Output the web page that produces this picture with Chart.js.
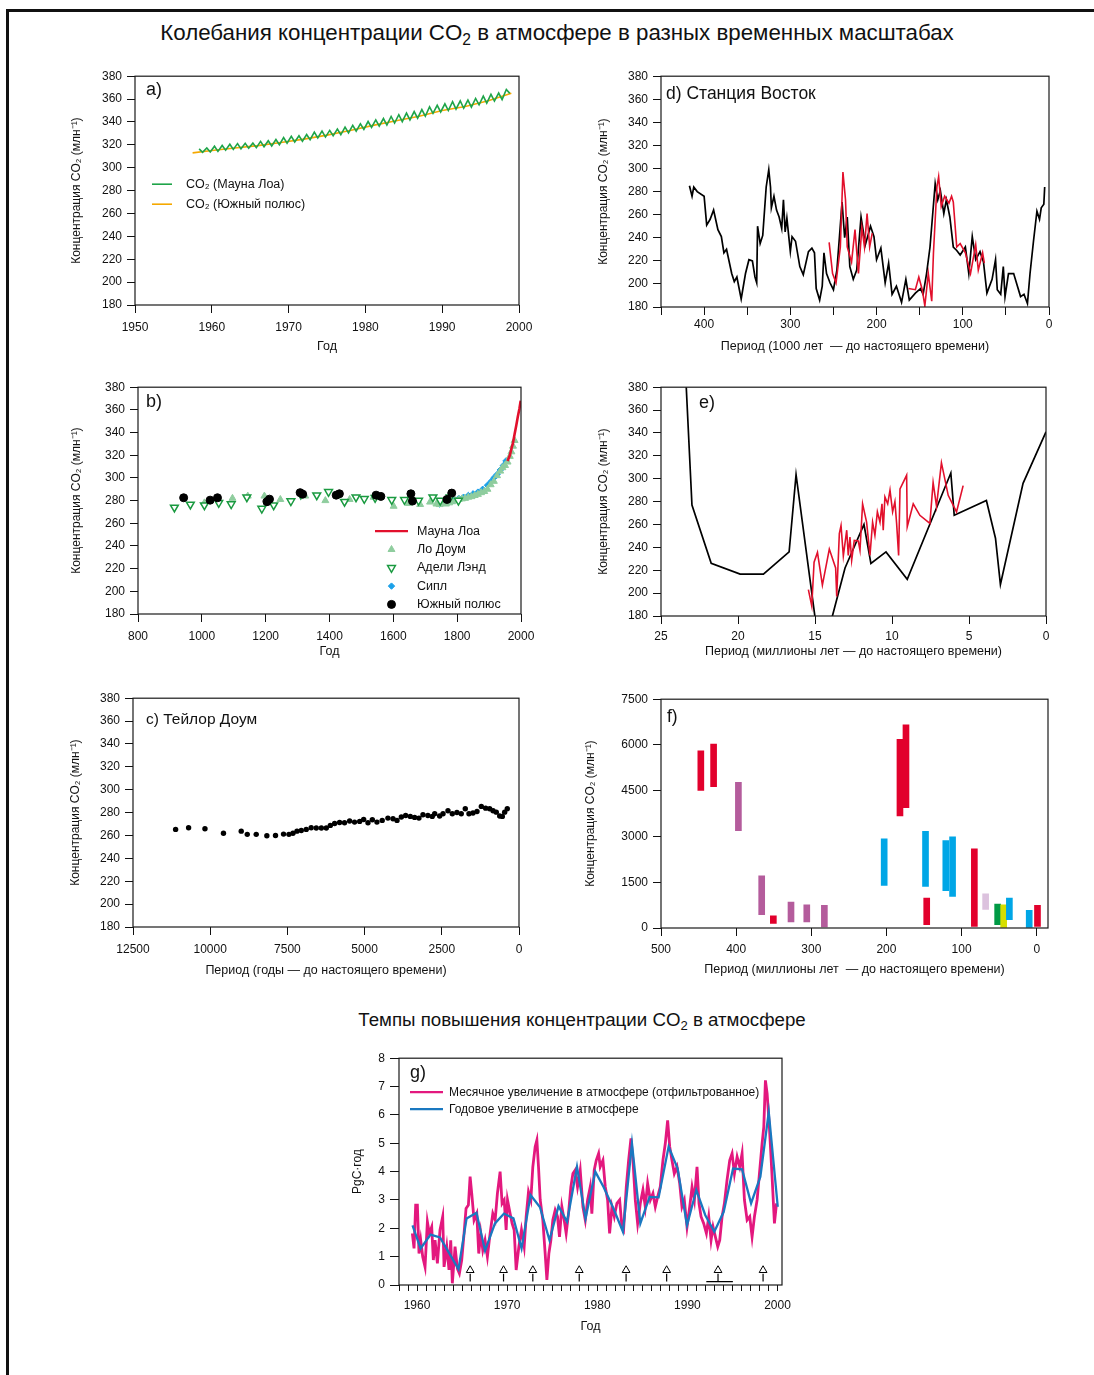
<!DOCTYPE html>
<html lang="ru">
<head>
<meta charset="utf-8">
<title>Колебания концентрации CO2 в атмосфере</title>
<script src="https://cdn.jsdelivr.net/npm/chart.js@4.4.1/dist/chart.umd.min.js"></script>
<style>
  html, body { margin: 0; padding: 0; background: #fff; }
  #page { position: relative; width: 1094px; height: 1375px; overflow: hidden;
          font-family: "Liberation Sans", Arial, Helvetica, sans-serif; color: #111; }
  #frame { position: absolute; left: 6px; top: 9px; width: 1200px; height: 1500px;
           border-top: 3px solid #111; border-left: 3px solid #111; }
  .head { position: absolute; white-space: nowrap; transform: translateX(-50%); }
  .head sub { font-size: 70%; line-height: 0; vertical-align: -0.3em; }
  canvas { position: absolute; }
</style>
</head>
<body>
<div id="page">
  <div id="frame"></div>
  <div class="head" style="left:557px; top:20px; font-size:22.3px;">Колебания концентрации CO<sub>2</sub> в атмосфере в разных временных масштабах</div>
  <div class="head" style="left:582px; top:1009px; font-size:18.7px;">Темпы повышения концентрации CO<sub>2</sub> в атмосфере</div>
</div>
<script>
// ---- a) Мауна Лоа и Южный полюс (max/min сезонного цикла по годам)
const mlYear = [1958, 1959, 1960, 1961, 1962, 1963, 1964, 1965, 1966, 1967, 1968, 1969, 1970, 1971,
  1972, 1973, 1974, 1975, 1976, 1977, 1978, 1979, 1980, 1981, 1982, 1983, 1984, 1985, 1986, 1987,
  1988, 1989, 1990, 1991, 1992, 1993, 1994, 1995, 1996, 1997, 1998];
const mlPeak = [316.5, 317.3, 318.8, 319.5, 320.5, 321.1, 321.3, 321.5, 323.0, 323.6, 324.7, 326.4,
  327.5, 327.9, 329.0, 331.2, 332.0, 332.6, 333.8, 335.5, 337.0, 338.3, 340.4, 341.9, 343.0, 344.8,
  346.3, 347.8, 349.1, 350.8, 353.2, 354.6, 355.9, 357.8, 358.5, 359.1, 360.6, 362.6, 364.1, 365.3, 368.4];
const mlTrough = [313.5, 313.8, 314.3, 315.3, 316.0, 316.5, 317.0, 317.5, 318.3, 319.0, 320.1, 321.5,
  322.5, 323.2, 324.5, 326.0, 326.8, 327.9, 328.8, 330.5, 331.9, 333.5, 335.3, 336.3, 337.3, 339.0,
  340.3, 341.8, 343.3, 345.0, 347.5, 348.8, 350.0, 351.2, 352.0, 353.0, 355.0, 356.5, 358.3, 359.5, 365.0];
const spYear = [1957.5, 1960, 1963, 1966, 1969, 1972, 1975, 1978, 1981, 1984, 1987, 1990, 1993, 1996, 1999];
const spCO2 = [313.0, 315.0, 317.2, 319.3, 322.0, 325.0, 328.5, 332.5, 337.0, 341.0, 345.0, 350.0, 353.5, 358.5, 365.0];

// ---- b) последнее тысячелетие
const bMLYear = [1958, 1965, 1970, 1975, 1980, 1985, 1990, 1995, 1999];
const bMLCO2 = [315, 320, 325.7, 331, 338.7, 346, 354, 361, 368];
const lawDomeYear = [1008, 1096, 1144, 1196, 1246, 1324, 1387, 1463, 1538, 1601, 1648, 1684, 1715,
  1735, 1745, 1755, 1765, 1775, 1785, 1795, 1805, 1815, 1825, 1835, 1845, 1855, 1865, 1875, 1885,
  1895, 1905, 1915, 1925, 1935, 1942, 1950, 1958, 1965, 1970, 1975, 1980];
const lawDomeCO2 = [278, 282, 284, 284, 281, 284, 280, 281, 283, 275, 277.5, 276.6, 278.7,
  277, 276.5, 277.5, 277, 278, 279, 280, 281, 281.5, 282, 283, 283.5, 284.5, 285.5, 287, 288,
  290, 294, 297, 302, 306, 309, 311, 314, 319, 323, 328, 333];
const adelieYear = [914, 964, 1008, 1053, 1092, 1141, 1188, 1225, 1279, 1310, 1360, 1397, 1447, 1483,
  1509, 1543, 1595, 1635, 1679, 1724, 1747, 1778, 1804];
const adelieCO2 = [274, 276.6, 276, 278, 277, 283, 273, 276, 279.6, 285.4, 284.8, 287.8, 279, 283,
  281.6, 282.5, 280.7, 280.7, 280, 283, 280, 283, 280];
const sipleYear = [1744, 1760, 1775, 1790, 1805, 1820, 1835, 1850, 1865, 1880, 1895, 1905, 1915, 1925, 1935, 1945, 1953];
const sipleCO2 = [277, 278, 279.5, 280, 282, 283, 284.5, 286, 287.5, 290, 293.5, 296.5, 300, 303, 307, 311, 315];
const southPoleYear = [943, 1026, 1049, 1204, 1212, 1308, 1316, 1421, 1431, 1546, 1561, 1655, 1660, 1768, 1783];
const southPoleCO2 = [282.5, 280.4, 282.5, 279, 281.3, 287, 285.7, 284.8, 286, 284.8, 283.7, 286, 279.6, 281, 286.6];

// ---- c) Тейлор Доум (годы до настоящего времени)
const taylorAge = [11120, 10700, 10170, 9570, 8995, 8800, 8510, 8165, 7885, 7625, 7450, 7320, 7190, 7050,
  6890, 6730, 6565, 6400, 6240, 6110, 5970, 5810, 5650, 5485, 5325, 5160, 5030, 4890, 4750, 4600, 4430,
  4245, 4080, 3950, 3810, 3670, 3520, 3380, 3240, 3110, 2950, 2810, 2730, 2570, 2460, 2300, 2160, 2010,
  1870, 1740, 1620, 1490, 1360, 1220, 1080, 950, 840, 735, 625, 540, 465, 380];
const taylorCO2 = [265.3, 266.7, 265.9, 262, 263.8, 261, 261, 259.8, 260, 261.2, 261, 262, 263.8, 264.4,
  265.3, 266.7, 266.5, 266.5, 266.5, 268.8, 270.5, 271.4, 271.1, 272.6, 271.7, 272.3, 274, 271.1, 273.7,
  271.7, 273.2, 275.2, 274.6, 273.2, 276.1, 277.5, 276.7, 275.8, 275.2, 278.1, 277.5, 276.7, 279, 277, 279,
  281.6, 279, 280.1, 279, 283.4, 279, 279.6, 281, 285.4, 283.9, 283.4, 281.6, 280.4, 277, 276.7, 280.4, 283.4];

// ---- d) Восток (тыс. лет до настоящего времени)
const vostokAge = [417, 414, 412, 408, 400, 397, 393, 389, 384, 380, 377, 374, 368, 365, 362, 357, 352, 348,
  344, 341, 339, 338, 335, 332, 328, 325, 323, 322, 319, 316, 313, 310, 308, 306, 304, 300, 298, 294, 289,
  285, 279, 275, 272, 270, 266, 263, 261, 258, 254, 250, 246, 243, 240, 237, 234, 231, 227, 223, 218, 213,
  207, 203, 200, 195, 190, 186, 182, 177, 171, 166, 162, 155, 149, 146, 142, 138, 132, 129, 126, 122, 119,
  115, 111, 107, 103, 97, 93, 89, 85, 80, 76, 72, 66, 62, 60, 56, 53, 51, 47, 41, 33, 29, 25, 22, 18, 14,
  11, 9, 6, 5];
const vostokCO2 = [285, 276, 284, 280, 276, 251, 256, 264, 247, 241, 227, 230, 209, 202, 206, 187, 209, 221,
  220, 206, 201, 250, 235, 242, 284, 299, 284, 266, 276, 264, 258, 248, 273, 245, 257, 228, 241, 237, 215,
  208, 228, 231, 227, 196, 186, 198, 227, 209, 201, 195, 212, 241, 271, 240, 258, 215, 204, 212, 258, 234,
  250, 241, 221, 231, 201, 218, 191, 198, 184, 204, 186, 192, 196, 191, 209, 232, 287, 273, 281, 261, 273,
  258, 232, 229, 225, 232, 209, 241, 221, 228, 219, 192, 204, 221, 195, 191, 215, 189, 209, 209, 189, 191,
  183, 209, 237, 263, 256, 266, 269, 284];
const vostokRedAge = [255, 251, 247, 242, 239, 236, 234, 229, 225, 221, 217, 214, 211, 208, 205, 184,
  163, 155, 151, 147, 144, 140, 136, 134, 130, 128, 125, 121, 116, 113, 111, 107, 103, 97, 91, 85, 82, 77, 75];
const vostokRedCO2 = [236, 209, 201, 232, 297, 273, 232, 219, 247, 209, 249, 232, 261, 232, 244, null,
  196, 195, 206, 195, 181, 209, 185, 227, 284, 293, 267, 276, 270, 276, 271, 232, 235, 227, 209, 234, 212, 227, 218];

// ---- e) миллионы лет
const eBlackAge = [23.45, 22.99, 21.74, 19.86, 18.35, 16.68, 16.23, 15.0, 14.63, 13.87, 13.05, 11.82, 11.37,
  10.39, 9.01, 6.18, 5.96, 3.87, 3.28, 2.96, 1.49, 0];
const eBlackCO2 = [405, 277, 226, 216.6, 216.6, 236, 303.6, 179, 142, 180, 222, 260, 226, 236, 212, 305, 268,
  281, 248, 207.6, 296, 341];
const eRedAge = [15.43, 15.21, 15.06, 14.84, 14.52, 14.07, 13.66, 13.59, 13.42, 13.31, 13.16, 12.94, 12.84,
  12.73, 12.62, 12.45, 12.19, 12.08, 11.91, 11.65, 11.43, 11.26, 11.11, 10.95, 10.78, 10.65, 10.57, 10.46,
  10.28, 10.13, 9.96, 9.81, 9.70, 9.57, 9.48, 9.05, 9.01, 8.62, 8.19, 7.54, 7.33, 7.11, 6.79, 6.35, 5.81, 5.38];
const eRedCO2 = [203, 188.7, 227, 235.6, 207, 238.5, 222, 197, 252, 259, 232.5, 255, 233, 249, 228.6, 246,
  245.6, 237.5, 278, 262, 233, 262, 250.6, 271, 262, 278, 255, 284, 278, 290, 271, 280, 261, 233, 291, 303,
  258, 278, 268, 261, 296.7, 276, 314, 285.5, 271, 294];

// ---- f) диапазоны оценок (млн лет)
const fAge = [447, 430, 397, 366, 350.5, 327, 306, 282.6, 203, 182, 174, 148, 146.4, 121, 112, 83, 68, 52, 44, 36.4, 10, -1];
const fLow = [4513, 4633, 3194, 436, 153, 196, 196, 33, 1395, 3674, 3946, 1363, 109, 1221, 1036, 55, 610, 109, 0, 273, 22, 55];
const fHigh = [5810, 6028, 4775, 1711, 403, 850, 763, 741, 2921, 6181, 6661, 3172, 981, 2867, 2987, 2594, 1123, 785, 763, 981, 578, 741];
const fProxy = ['r', 'r', 'p', 'p', 'r', 'p', 'p', 'p', 'b', 'r', 'r', 'b', 'r', 'b', 'b', 'r', 'l', 'g', 'y', 'b', 'b', 'r'];
const proxyColor = { r: '#e2002c', p: '#b45c9c', b: '#00a6e6', l: '#dcc2de', g: '#009a45', y: '#d6de00' };

// ---- g) темпы прироста, PgC/год
const gYear = [1959.5, 1960.4, 1961.5, 1962.55, 1963.5, 1964.6, 1965.5, 1966.6, 1967.55, 1968.65, 1969.65,
  1970.7, 1971.6, 1972.6, 1973.65, 1974.7, 1975.7, 1976.65, 1977.75, 1978.7, 1979.78, 1980.7, 1981.8,
  1982.85, 1983.85, 1984.78, 1985.81, 1986.81, 1987.92, 1988.92, 1989.96, 1990.99, 1991.99, 1992.99,
  1994.03, 1995.07, 1996.07, 1997.07, 1998.1, 1999.03, 2000.03];
const gAnnual = [2.1, 1.29, 1.78, 1.68, 1.16, 0.56, 2.35, 2.55, 1.21, 2.17, 2.52, 2.35, 1.29, 3.17, 2.74,
  1.58, 2.78, 2.23, 4.17, 2.35, 4.0, 3.46, 2.7, 1.88, 4.99, 2.17, 3.11, 3.09, 4.88, 4.11, 2.11, 3.35, 2.46,
  1.88, 2.58, 4.11, 4.08, 2.88, 3.82, 6.1, 2.76];
const gMonthYear = [1959.48, 1959.67, 1959.85, 1960.04, 1960.22, 1960.41, 1960.63, 1960.89, 1961.15, 1961.37,
  1961.63, 1961.81, 1962.0, 1962.26, 1962.55, 1962.85, 1963.0, 1963.3, 1963.55, 1963.74, 1963.92, 1964.22,
  1964.48, 1964.7, 1964.96, 1965.22, 1965.44, 1965.7, 1965.89, 1966.07, 1966.33, 1966.63, 1966.85, 1967.07,
  1967.3, 1967.55, 1967.81, 1968.11, 1968.41, 1968.67, 1968.92, 1969.22, 1969.44, 1969.67, 1969.89, 1970.04,
  1970.33, 1970.55, 1970.78, 1971.0, 1971.3, 1971.59, 1971.89, 1972.11, 1972.37, 1972.63, 1972.85, 1973.11,
  1973.3, 1973.48, 1973.67, 1973.96, 1974.22, 1974.41, 1974.63, 1974.85, 1975.07, 1975.33, 1975.59, 1975.81,
  1976.07, 1976.33, 1976.55, 1976.81, 1977.07, 1977.3, 1977.55, 1977.81, 1978.11, 1978.41, 1978.67, 1978.93,
  1979.22, 1979.4, 1979.66, 1979.89, 1980.15, 1980.33, 1980.63, 1980.89, 1981.15, 1981.37, 1981.63, 1981.89,
  1982.18, 1982.48, 1982.74, 1982.92, 1983.22, 1983.48, 1983.74, 1983.96, 1984.22, 1984.48, 1984.78, 1985.07,
  1985.33, 1985.59, 1985.89, 1986.18, 1986.44, 1986.7, 1986.99, 1987.29, 1987.55, 1987.81, 1988.04, 1988.29,
  1988.55, 1988.85, 1989.15, 1989.4, 1989.66, 1989.96, 1990.26, 1990.52, 1990.78, 1991.07, 1991.29, 1991.52,
  1991.81, 1992.11, 1992.37, 1992.63, 1992.85, 1993.11, 1993.37, 1993.59, 1993.85, 1994.11, 1994.4, 1994.7,
  1994.96, 1995.22, 1995.52, 1995.81, 1996.07, 1996.33, 1996.63, 1996.92, 1997.18, 1997.44, 1997.74, 1998.03,
  1998.29, 1998.48, 1998.66, 1998.85, 1999.1, 1999.4, 1999.66, 1999.89];
const gMonthly = [1.82, 1.29, 2.82, 2.82, 1.11, 1.58, 1.0, 0.64, 2.23, 1.82,
  2.05, 0.88, 1.58, 0.76, 1.94, 2.41, 0.64, 1.35, 0.53, 1.58, 0.06, 1.35,
  0.58, 0.41, 0.88, 1.82, 2.7, 2.82, 3.82, 3.23, 2.29, 2.52, 1.11, 1.82,
  1.23, 1.58, 1.0, 1.82, 2.52, 2.29, 3.23, 4.0, 2.88, 3.0, 1.94, 3.0,
  2.52, 2.17, 1.94, 0.53, 1.35, 1.94, 1.35, 2.41, 3.29, 3.0, 4.17, 4.88,
  5.11, 4.17, 3.0, 2.29, 1.11, 0.18, 1.11, 1.58, 2.29, 2.64, 2.41, 1.7,
  2.76, 2.29, 1.82, 2.52, 3.46, 3.93, 4.05, 3.46, 4.05, 2.76, 2.29, 3.0,
  3.46, 2.52, 4.05, 4.4, 4.64, 4.17, 4.4, 3.46, 3.0, 1.82, 2.76, 2.41,
  2.88, 3.0, 2.05, 1.94, 3.46, 4.4, 5.17, 4.4, 3.0, 2.17, 2.88, 3.35,
  2.76, 3.58, 3.0, 3.23, 2.76, 3.11, 3.46, 4.4, 4.99, 5.81, 4.88, 4.4,
  3.93, 4.17, 3.58, 2.76, 3.0, 2.05, 2.76, 3.46, 3.0, 4.17, 2.88, 2.41,
  2.17, 1.82, 2.41, 1.58, 2.05, 1.7, 1.35, 1.58, 2.41, 2.88, 3.7, 4.4,
  4.64, 3.93, 4.52, 4.17, 4.64, 3.0, 2.29, 2.41, 1.7, 2.41, 3.0, 4.05,
  4.99, 5.58, 7.22, 6.75, 5.58, 3.82, 2.17, 2.88];
const gArrowYear = [1965.9, 1969.6, 1972.85, 1978.0, 1983.2, 1987.7, 1993.4, 1998.4];
const gSpan = [1992.1, 1995.05];

const FONT = '"Liberation Sans", Arial, Helvetica, sans-serif';
Chart.defaults.font.family = FONT;
Chart.defaults.font.size = 12;
Chart.defaults.color = '#111';
Chart.defaults.animation = false;
Chart.defaults.plugins.legend.display = false;
Chart.defaults.plugins.tooltip.enabled = false;

const CO2_TITLE = 'Концентрация CO₂ (млн⁻¹)';

function pts(xs, ys) {
  return xs.map((x, i) => ({ x: x, y: ys[i] }));
}

// рамка, подпись панели и легенда внутри области графика
const decor = {
  id: 'decor',
  afterDraw(chart, args, o) {
    const { ctx, chartArea: a } = chart;
    ctx.save();
    ctx.strokeStyle = '#1a1a1a';
    ctx.lineWidth = 1.2;
    ctx.strokeRect(a.left, a.top, a.right - a.left, a.bottom - a.top);
    ctx.textBaseline = 'middle';
    ctx.fillStyle = '#111';
    if (o.tag) {
      ctx.font = o.tag.size + 'px ' + FONT;
      ctx.fillText(o.tag.text, a.left + o.tag.dx, a.top + o.tag.dy);
    }
    if (o.legend) {
      const L = o.legend;
      ctx.font = L.size + 'px ' + FONT;
      L.items.forEach((it, i) => {
        const ds = chart.data.datasets[it.ds];
        const x = a.left + L.dx, y = a.top + L.dy + i * L.row;
        if (ds.pointRadius) {
          ctx.fillStyle = ds.backgroundColor;
          ctx.strokeStyle = ds.borderColor;
          ctx.lineWidth = ds.borderWidth;
          Chart.helpers.drawPoint(ctx, { pointStyle: ds.pointStyle, radius: ds.pointRadius,
            rotation: ds.rotation || 0, borderWidth: ds.borderWidth }, x + L.sw / 2, y);
        } else {
          ctx.strokeStyle = ds.borderColor;
          ctx.lineWidth = Math.min(ds.borderWidth, 2.2);
          ctx.beginPath(); ctx.moveTo(x, y); ctx.lineTo(x + L.sw, y); ctx.stroke();
        }
        ctx.fillStyle = '#111';
        ctx.fillText(it.text || ds.label, x + L.tx, y);
      });
    }
    ctx.restore();
  }
};

function makeScales(p, yW, xH) {
  return {
    x: {
      type: 'linear', min: p.xMin, max: p.xMax, reverse: !!p.xRev, offset: false,
      ticks: { stepSize: p.xStep, autoSkip: false, includeBounds: false, maxRotation: 0,
        padding: p.xPad === undefined ? 7 : p.xPad,
        callback: v => (p.xLabel ? p.xLabel(v) : String(v)) },
      grid: { drawOnChartArea: false, tickLength: p.xTick || 8, tickColor: '#111', offset: false },
      border: { display: false },
      title: { display: true, text: p.xTitle, font: { size: 12.5 }, padding: 4 },
      afterFit: s => { s.height = xH; }
    },
    y: {
      type: 'linear', min: p.yMin, max: p.yMax,
      ticks: { stepSize: p.yStep, autoSkip: false, includeBounds: false, padding: 5, callback: v => String(v) },
      grid: { drawOnChartArea: false, tickLength: p.yTick || 8, tickColor: '#111' },
      border: { display: false },
      title: { display: true, text: p.yTitle || CO2_TITLE, font: { size: 12 }, padding: 4 },
      afterFit: s => { s.width = yW; }
    }
  };
}

function panel(box, p) {
  const yW = Math.round(box.yDist + 11), xH = Math.round(box.xDist + 11);
  const padT = 12, padR = 22;
  const c = document.createElement('canvas');
  c.width = (box.r - box.l) + yW + padR;
  c.height = (box.b - box.t) + padT + xH;
  c.style.left = (box.l - yW) + 'px';
  c.style.top = (box.t - padT) + 'px';
  c.style.width = c.width + 'px';
  c.style.height = c.height + 'px';
  document.getElementById('page').appendChild(c);
  return new Chart(c, {
    type: p.type || 'scatter',
    data: { datasets: p.datasets },
    options: {
      responsive: false,
      devicePixelRatio: 1,
      layout: { padding: { left: 0, top: padT, right: padR, bottom: 0 } },
      scales: makeScales(p, yW, xH),
      plugins: { decor: { tag: p.tag, legend: p.legend } }
    },
    plugins: [decor]
  });
}

const lineDs = (label, data, color, width) => ({
  label: label, data: data, showLine: true, borderColor: color, backgroundColor: color,
  borderWidth: width, pointRadius: 0, tension: 0, spanGaps: false
});

// a)
panel({ l: 135, t: 76, r: 519, b: 305, yDist: 59, xDist: 42 }, {
  xMin: 1950, xMax: 2000, xStep: 10, yMin: 180, yMax: 380, yStep: 20, xTitle: 'Год',
  datasets: [
    lineDs('CO₂ (Мауна Лоа)', mlYear.flatMap((yr, i) => [{ x: yr + 0.35, y: mlPeak[i] }, { x: yr + 0.8, y: mlTrough[i] }]), '#1ea449', 1.6),
    lineDs('CO₂ (Южный полюс)', pts(spYear, spCO2), '#f5a800', 1.6)
  ],
  tag: { text: 'a)', dx: 11, dy: 14, size: 18 },
  legend: { dx: 17, dy: 108, row: 20, sw: 20, tx: 34, size: 12.5, items: [{ ds: 0 }, { ds: 1 }] }
});

// b)
panel({ l: 138, t: 387, r: 521, b: 614, yDist: 62, xDist: 38 }, {
  xMin: 800, xMax: 2000, xStep: 200, yMin: 180, yMax: 380, yStep: 20, xTitle: 'Год',
  datasets: [
    lineDs('Мауна Лоа', pts(bMLYear, bMLCO2), '#e2102c', 2.6),
    { label: 'Южный полюс', data: pts(southPoleYear, southPoleCO2), pointStyle: 'circle', pointRadius: 4,
      backgroundColor: '#000', borderColor: '#000', borderWidth: 1 },
    { label: 'Адели Лэнд', data: pts(adelieYear, adelieCO2), pointStyle: 'triangle', rotation: 180, pointRadius: 4.5,
      backgroundColor: '#fff', borderColor: '#1a9a40', borderWidth: 1.5 },
    { label: 'Ло Доум', data: pts(lawDomeYear, lawDomeCO2), pointStyle: 'triangle', pointRadius: 4,
      backgroundColor: '#8fcd9e', borderColor: '#8fcd9e', borderWidth: 1 },
    { label: 'Сипл', data: pts(sipleYear, sipleCO2), pointStyle: 'rectRot', pointRadius: 3.2,
      backgroundColor: '#1aa0e8', borderColor: '#1aa0e8', borderWidth: 1 }
  ],
  tag: { text: 'b)', dx: 8, dy: 15, size: 18 },
  legend: { dx: 237, dy: 144, row: 18.3, sw: 33, tx: 42, size: 12.5,
    items: [{ ds: 0 }, { ds: 3 }, { ds: 2 }, { ds: 4 }, { ds: 1 }] }
});

// c)
panel({ l: 133, t: 698, r: 519, b: 927, yDist: 58, xDist: 44 }, {
  xMin: 0, xMax: 12500, xRev: true, xStep: 2500, yMin: 180, yMax: 380, yStep: 20,
  xTitle: 'Период (годы — до настоящего времени)',
  datasets: [
    { label: 'Тейлор Доум', data: pts(taylorAge, taylorCO2), pointStyle: 'circle', pointRadius: 2.7,
      backgroundColor: '#000', borderColor: '#000', borderWidth: 0 }
  ],
  tag: { text: 'c) Тейлор Доум', dx: 13, dy: 22, size: 15.5 }
});

// d)
panel({ l: 661, t: 76, r: 1049, b: 307, yDist: 58, xDist: 40 }, {
  xMin: 0, xMax: 450, xRev: true, xStep: 50, xPad: 2, xLabel: v => (v % 100 === 0 ? String(v) : ''),
  yMin: 180, yMax: 380, yStep: 20,
  xTitle: 'Период (1000 лет  — до настоящего времени)',
  datasets: [
    lineDs('Восток (2)', pts(vostokRedAge, vostokRedCO2), '#e2102c', 1.6),
    lineDs('Восток', pts(vostokAge, vostokCO2), '#000', 1.7)
  ],
  tag: { text: 'd) Станция Восток', dx: 5, dy: 18, size: 17.5 }
});

// e)
panel({ l: 661, t: 387, r: 1046, b: 616, yDist: 58, xDist: 36 }, {
  xMin: 0, xMax: 25, xRev: true, xStep: 5, xPad: 5, yMin: 180, yMax: 380, yStep: 20,
  xTitle: 'Период (миллионы лет — до настоящего времени)',
  datasets: [
    lineDs('Оценка 2', pts(eRedAge, eRedCO2), '#e2102c', 1.6),
    lineDs('Оценка 1', pts(eBlackAge, eBlackCO2), '#000', 1.7)
  ],
  tag: { text: 'e)', dx: 38, dy: 16, size: 18 }
});

// f)
panel({ l: 661, t: 699, r: 1048, b: 928, yDist: 71, xDist: 42 }, {
  type: 'bar',
  xMin: -15, xMax: 500, xRev: true, xStep: 100, xPad: 6, yMin: 0, yMax: 7500, yStep: 1500,
  xTitle: 'Период (миллионы лет  — до настоящего времени)',
  datasets: [
    { label: 'Диапазон', data: fAge.map((x, i) => ({ x: x, y: [fLow[i], fHigh[i]] })),
      backgroundColor: fProxy.map(k => proxyColor[k]), borderWidth: 0, barThickness: 6, borderSkipped: false }
  ],
  tag: { text: 'f)', dx: 6, dy: 18, size: 17.5 }
});

// g)
panel({ l: 399, t: 1058, r: 782, b: 1285, yDist: 42, xDist: 42 }, {
  xMin: 1958, xMax: 2000.5, xStep: 1, xTick: 6, yTick: 9,
  xLabel: v => (Number.isInteger(v) && v % 10 === 0 ? String(v) : ''),
  yMin: 0, yMax: 8, yStep: 1, yTitle: 'PgC·год', xTitle: 'Год',
  datasets: [
    lineDs('Годовое увеличение в атмосфере', pts(gYear, gAnnual), '#1a78c0', 2.3),
    lineDs('Месячное увеличение в атмосфере (отфильтрованное)', pts(gMonthYear, gMonthly), '#e3187e', 2.8),
    { label: 'Эль-Ниньо', data: gArrowYear.map(x => ({ x: x, y: 0.52 })), pointStyle: 'triangle', pointRadius: 4.5,
      backgroundColor: '#fff', borderColor: '#000', borderWidth: 1 },
    lineDs('стрелки', gArrowYear.flatMap(x => [{ x: x, y: 0.12 }, { x: x, y: 0.4 }, { x: x, y: null }]), '#000', 1.2),
    lineDs('Пинатубо', pts(gSpan, [0.12, 0.12]), '#000', 1.2)
  ],
  tag: { text: 'g)', dx: 11, dy: 15, size: 18 },
  legend: { dx: 11, dy: 34, row: 17, sw: 33, tx: 39, size: 12, items: [{ ds: 1 }, { ds: 0 }] }
});
</script>
</body>
</html>
